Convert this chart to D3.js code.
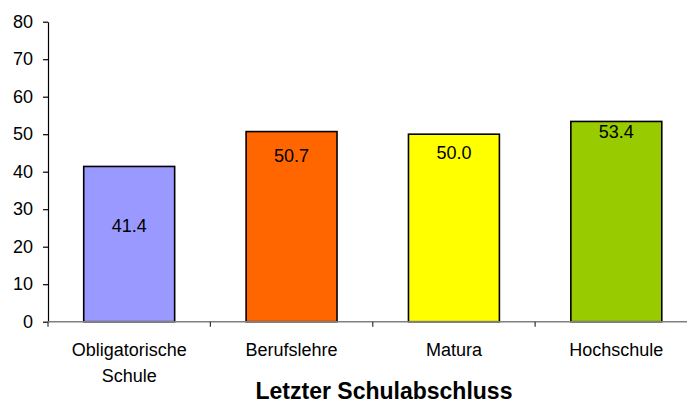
<!DOCTYPE html>
<html>
<head>
<meta charset="utf-8">
<script src="https://cdn.jsdelivr.net/npm/d3@7"></script>
<style>
  html, body { margin: 0; padding: 0; background: #fff; }
  svg { display: block; font-family: "Liberation Sans", Arial, sans-serif; }
</style>
</head>
<body>
<svg id="chart" width="689" height="403"></svg>
<script>
// Share by last school qualification
const categories = ["Obligatorische\nSchule", "Berufslehre", "Matura", "Hochschule"];
const values = [41.4, 50.7, 50.0, 53.4];
const colors = ["#9999FF", "#FF6600", "#FFFF00", "#99CC00"];
const yTicks = [0, 10, 20, 30, 40, 50, 60, 70, 80];
// Height (in axis units) at which each value label sits inside its bar
const labelLevels = [25.5, 44.2, 45.1, 50.7];
const axisTitle = "Letzter Schulabschluss";

const svg = d3.select("#chart");

const y = d3.scaleLinear().domain([0, 80]).range([321.7, 21.7]);
const x = d3.scaleBand()
  .domain(categories)
  .range([48, 697.5])
  .paddingInner(0.44)
  .paddingOuter(0.22);

// Bars
svg.append("g").selectAll("rect")
  .data(categories)
  .join("rect")
  .attr("x", d => x(d))
  .attr("y", (d, i) => y(values[i]))
  .attr("width", x.bandwidth())
  .attr("height", (d, i) => y(0) - y(values[i]))
  .attr("fill", (d, i) => colors[i])
  .attr("stroke", "#000")
  .attr("stroke-width", 1.6);

// Value labels
svg.append("g").selectAll("text")
  .data(categories)
  .join("text")
  .attr("x", d => x(d) + x.bandwidth() / 2)
  .attr("y", (d, i) => y(labelLevels[i]))
  .attr("dy", "0.35em")
  .attr("text-anchor", "middle")
  .attr("font-size", 18)
  .attr("fill", "#000")
  .text((d, i) => values[i].toFixed(1));

// Y axis
const yAxis = d3.axisLeft(y)
  .tickValues(yTicks)
  .tickSize(5)
  .tickSizeOuter(0)
  .tickPadding(10)
  .tickFormat(d3.format("d"));
const gy = svg.append("g").attr("transform", "translate(48,0)").call(yAxis);
gy.select(".domain").attr("stroke", "#000").attr("stroke-width", 1.2);
gy.selectAll(".tick line").attr("stroke", "#000").attr("stroke-width", 1.2);
gy.selectAll(".tick text")
  .attr("font-size", 18)
  .attr("font-family", "Liberation Sans, Arial, sans-serif")
  .attr("fill", "#000");

// X axis: baseline with ticks at category boundaries
const x0 = y(0);
svg.append("line")
  .attr("x1", 48).attr("x2", 687)
  .attr("y1", x0).attr("y2", x0)
  .attr("stroke", "#808080").attr("stroke-width", 1.5);
svg.append("g").selectAll("line")
  .data(categories)
  .join("line")
  .attr("x1", d => x(d) - (x.step() - x.bandwidth()) / 2)
  .attr("x2", d => x(d) - (x.step() - x.bandwidth()) / 2)
  .attr("y1", x0).attr("y2", x0 + 5)
  .attr("stroke", "#333").attr("stroke-width", 1.2);

// Category labels
const cat = svg.append("g").selectAll("text")
  .data(categories)
  .join("text")
  .attr("x", d => x(d) + x.bandwidth() / 2)
  .attr("y", 355.5)
  .attr("text-anchor", "middle")
  .attr("font-size", 18)
  .attr("fill", "#000");
cat.selectAll("tspan")
  .data(d => d.split("\n").map(t => ({ t, c: d })))
  .join("tspan")
  .attr("x", d => x(d.c) + x.bandwidth() / 2)
  .attr("dy", (d, i) => i === 0 ? 0 : 26)
  .text(d => d.t);

// Axis title
svg.append("text")
  .attr("x", 384)
  .attr("y", 398.5)
  .attr("text-anchor", "middle")
  .attr("font-size", 23)
  .attr("font-weight", "bold")
  .attr("fill", "#000")
  .text(axisTitle);
</script>
</body>
</html>
